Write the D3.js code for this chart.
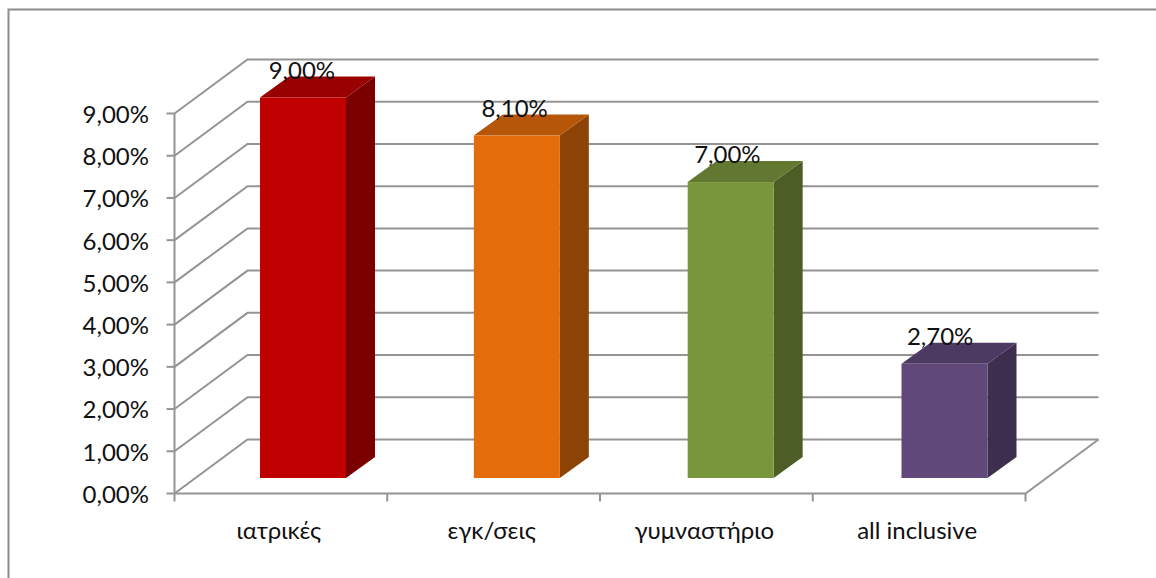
<!DOCTYPE html>
<html>
<head>
<meta charset="utf-8">
<style>
  html, body { margin: 0; padding: 0; background: #fff; }
  svg { display: block; }
  text { font-family: "Lato", "Noto Sans", sans-serif; fill: #111; }
</style>
<script src="https://cdn.jsdelivr.net/npm/d3@7/dist/d3.min.js"></script>
</head>
<body>
<svg id="chart" width="1156" height="578"></svg>
<script>
const categories = ["ιατρικές", "εγκ/σεις", "γυμναστήριο", "all inclusive"];
const values = [9.0, 8.1, 7.0, 2.7];
const valueLabels = ["9,00%", "8,10%", "7,00%", "2,70%"];
const yTicks = [0, 1, 2, 3, 4, 5, 6, 7, 8, 9];
const yTickLabels = ["0,00%", "1,00%", "2,00%", "3,00%", "4,00%", "5,00%", "6,00%", "7,00%", "8,00%", "9,00%"];
const frontColors = ["#c00000", "#e46c0a", "#7a963c", "#60497a"];
const topColors = ["#990000", "#b65608", "#627830", "#4d3a62"];
const sideColors = ["#7a0000", "#8e4306", "#4c5e25", "#3d2e4d"];

const svg = d3.select("#chart");
const gridColor = "#949494";

// Projection of the 3D box: the floor and back wall are offset from the front plane.
const wallDx = 73, wallDy = -54;
const barDx = 29, barDy = -21;
const fontSize = 24;
const barW = 86;

const x = d3.scaleBand().domain(categories).range([174.5, 1025.5]);
const y = d3.scaleLinear().domain([0, 9]).range([493.5, 113.5]);

// Bars stand part-way into the floor, so they have their own projected scales.
const barX = d3.scalePoint().domain(categories).range([260, 901.5]);
const barY = d3.scaleLinear().domain([0, 9]).range([478, 97.5]);

// Outer chart frame: only its left and top edges fall inside the canvas
svg.append("path")
  .attr("d", "M8.5,578V9.5H1156")
  .attr("fill", "none").attr("stroke", "#8c8c8c").attr("stroke-width", 2);

const grid = svg.append("g").attr("fill", "none").attr("stroke", gridColor).attr("stroke-width", 2);

// Gridlines: slanted on the side wall, horizontal across the back wall
yTicks.forEach(t => {
  const p = d3.path();
  p.moveTo(x.range()[0], y(t));
  p.lineTo(x.range()[0] + wallDx, y(t) + wallDy);
  p.lineTo(x.range()[1] + wallDx, y(t) + wallDy);
  grid.append("path").attr("d", p.toString());
});

// Floor edges
const floor = d3.path();
floor.moveTo(x.range()[0], y(0));
floor.lineTo(x.range()[1], y(0));
floor.lineTo(x.range()[1] + wallDx, y(0) + wallDy);
grid.append("path").attr("d", floor.toString());

// Value axis line and ticks
grid.append("line")
  .attr("x1", x.range()[0]).attr("x2", x.range()[0])
  .attr("y1", y(9)).attr("y2", y(0));
grid.selectAll(".ytick").data(yTicks).join("line")
  .attr("class", "ytick")
  .attr("x1", x.range()[0] - 8).attr("x2", x.range()[0])
  .attr("y1", d => y(d)).attr("y2", d => y(d));

// Category ticks
const catEdges = categories.map(c => x(c)).concat(x.range()[1]);
grid.selectAll(".xtick").data(catEdges).join("line")
  .attr("class", "xtick")
  .attr("x1", d => d).attr("x2", d => d)
  .attr("y1", y(0)).attr("y2", y(0) + 8);

// Value axis labels
svg.append("g").selectAll("text").data(yTicks).join("text")
  .attr("x", 149)
  .attr("y", d => y(d) + 1)
  .attr("dy", "0.35em")
  .attr("text-anchor", "end")
  .attr("font-size", fontSize)
  .text((d, i) => yTickLabels[i]);

// Category labels
svg.append("g").selectAll("text").data(categories).join("text")
  .attr("x", d => x(d) + x.bandwidth() / 2 - 2)
  .attr("y", 531)
  .attr("dy", "0.35em")
  .attr("text-anchor", "middle")
  .attr("font-size", fontSize)
  .text(d => d);

// Bars: front, top and side faces
const bars = svg.append("g").selectAll("g").data(values).join("g");
const left = (d, i) => barX(categories[i]);

bars.append("path")
  .attr("fill", (d, i) => sideColors[i])
  .attr("d", (d, i) => {
    const r = left(d, i) + barW;
    return `M${r},${barY(d)}l${barDx},${barDy}V${barY(0) + barDy}l${-barDx},${-barDy}Z`;
  });
bars.append("path")
  .attr("fill", (d, i) => topColors[i])
  .attr("d", (d, i) => {
    const l = left(d, i);
    return `M${l},${barY(d)}l${barDx},${barDy}h${barW}l${-barDx},${-barDy}Z`;
  });
bars.append("rect")
  .attr("fill", (d, i) => frontColors[i])
  .attr("x", left)
  .attr("y", barY)
  .attr("width", barW)
  .attr("height", d => barY(0) - barY(d));

// Value labels sit above the front face, overlapping the top face
svg.append("g").selectAll("text").data(values).join("text")
  .attr("x", (d, i) => x(categories[i]) + x.bandwidth() / 2 + 21)
  .attr("y", d => barY(d) - 27)
  .attr("dy", "0.35em")
  .attr("text-anchor", "middle")
  .attr("font-size", fontSize)
  .text((d, i) => valueLabels[i]);
</script>
</body>
</html>
